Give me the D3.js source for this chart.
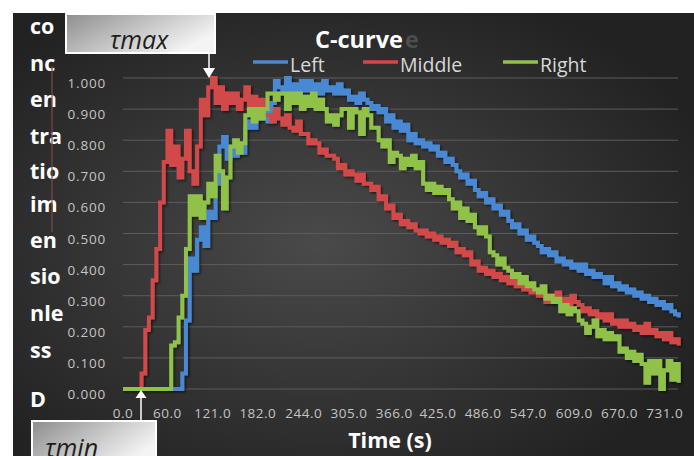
<!DOCTYPE html>
<html><head><meta charset="utf-8">
<script src="https://cdn.jsdelivr.net/npm/d3@7"></script>
<style>body{margin:0;background:#fff}svg{display:block}text{font-family:"Open Sans",sans-serif}</style>
</head><body><svg id="c" width="694" height="456"></svg>
<script>
// time (s), sampled every 5 s
const time=[0,5,10,15,20,25,30,35,40,45,50,55,60,65,70,75,80,85,90,95,
100,105,110,115,120,125,130,135,140,145,150,155,160,165,170,175,180,185,190,195,
200,205,210,215,220,225,230,235,240,245,250,255,260,265,270,275,280,285,290,295,
300,305,310,315,320,325,330,335,340,345,350,355,360,365,370,375,380,385,390,395,
400,405,410,415,420,425,430,435,440,445,450,455,460,465,470,475,480,485,490,495,
500,505,510,515,520,525,530,535,540,545,550,555,560,565,570,575,580,585,590,595,
600,605,610,615,620,625,630,635,640,645,650,655,660,665,670,675,680,685,690,695,
700,705,710,715,720,725,730,735,740,745,750];
const left=[0,0,0,0,0,0,0,0,0,0,
0,0,0,0,0,0,0.05,0.22,0.42,0.38,
0.48,0.52,0.46,0.57,0.55,0.66,0.78,0.81,0.74,0.77,
0.75,0.78,0.76,0.84,0.86,0.84,0.88,0.87,0.90,0.86,
0.92,0.99,0.97,0.95,1.00,0.96,0.98,0.95,0.99,0.96,
0.99,0.96,0.98,0.95,0.99,0.96,0.97,0.95,0.98,0.95,
0.96,0.93,0.94,0.92,0.95,0.93,0.92,0.90,0.91,0.89,
0.90,0.86,0.88,0.84,0.86,0.83,0.85,0.80,0.82,0.79,
0.80,0.78,0.79,0.77,0.78,0.75,0.76,0.73,0.74,0.72,
0.70,0.68,0.69,0.66,0.67,0.64,0.62,0.63,0.60,0.61,
0.58,0.59,0.56,0.57,0.54,0.52,0.53,0.50,0.51,0.48,
0.49,0.47,0.46,0.44,0.45,0.43,0.44,0.41,0.42,0.40,
0.41,0.39,0.40,0.38,0.40,0.37,0.38,0.36,0.37,0.36,
0.34,0.36,0.33,0.34,0.32,0.33,0.31,0.32,0.30,0.31,
0.29,0.30,0.28,0.29,0.27,0.28,0.26,0.27,0.25,0.24,
0.23];
const middle=[0,0,0,0,0,0.05,0.19,0.23,0.35,0.45,
0.60,0.73,0.83,0.72,0.78,0.68,0.74,0.83,0.70,0.66,
0.78,0.93,0.88,0.97,1.00,0.92,0.97,0.90,0.95,0.92,
0.95,0.90,0.93,0.97,0.91,0.94,0.90,0.93,0.88,0.88,
0.86,0.90,0.87,0.85,0.88,0.84,0.83,0.86,0.82,0.82,
0.79,0.80,0.79,0.76,0.77,0.75,0.75,0.74,0.71,0.72,
0.69,0.70,0.69,0.67,0.69,0.66,0.66,0.64,0.65,0.61,
0.62,0.58,0.59,0.55,0.56,0.53,0.54,0.52,0.53,0.51,
0.50,0.51,0.49,0.50,0.48,0.49,0.47,0.48,0.46,0.47,
0.44,0.45,0.43,0.44,0.40,0.41,0.38,0.39,0.37,0.38,
0.36,0.37,0.35,0.36,0.34,0.35,0.33,0.34,0.32,0.33,
0.31,0.32,0.30,0.31,0.28,0.30,0.29,0.31,0.28,0.29,
0.27,0.30,0.28,0.27,0.25,0.26,0.24,0.25,0.23,0.24,
0.22,0.24,0.21,0.22,0.20,0.22,0.20,0.21,0.19,0.20,
0.18,0.21,0.18,0.19,0.17,0.18,0.16,0.18,0.15,0.16,
0.14];
const right=[0,0,0,0,0,0,0,0,0,0,
0,0,0,0.14,0.15,0.23,0.30,0.45,0.62,0.56,
0.62,0.55,0.60,0.66,0.62,0.75,0.70,0.58,0.68,0.78,
0.80,0.76,0.79,0.88,0.90,0.86,0.90,0.87,0.90,0.95,
0.95,0.93,0.95,0.95,0.90,0.95,0.92,0.95,0.90,0.94,
0.91,0.95,0.90,0.93,0.90,0.86,0.88,0.85,0.88,0.90,
0.90,0.84,0.90,0.89,0.82,0.90,0.88,0.84,0.84,0.80,
0.78,0.80,0.73,0.76,0.75,0.71,0.74,0.72,0.75,0.71,
0.73,0.66,0.64,0.66,0.63,0.65,0.63,0.64,0.61,0.58,
0.60,0.55,0.58,0.54,0.56,0.52,0.50,0.52,0.49,0.44,
0.43,0.40,0.42,0.39,0.38,0.36,0.37,0.34,0.36,0.33,
0.34,0.32,0.31,0.33,0.29,0.30,0.28,0.29,0.25,0.27,
0.24,0.26,0.25,0.22,0.21,0.18,0.20,0.22,0.17,0.19,
0.16,0.18,0.16,0.17,0.12,0.13,0.10,0.12,0.09,0.11,
0.08,0.02,0.09,0.05,0.09,0.00,0.06,0.09,0.03,0.08,
0.02];
const seriesNames=["Left","Middle","Right"];
const seriesColors=["#4a88d2","#d2484a","#90c24a"];
const yTicks=[0,0.1,0.2,0.3,0.4,0.5,0.6,0.7,0.8,0.9,1.0];
const xTicks=[0,60,121,182,244,305,366,425,486,547,609,670,731];
const yTitleParts=["co","nc","en","tra","tio","im","en","sio","nle","ss","D"];
const yTitleY=[34,71,107,144,179,212,248,284,321,358,407];

const svg=d3.select("#c");
const defs=svg.append("defs");
const bg=defs.append("radialGradient").attr("id","bg").attr("cx","0.45").attr("cy","0.52").attr("r","0.62");
bg.append("stop").attr("offset","0").attr("stop-color","#4a4a4a");
bg.append("stop").attr("offset","1").attr("stop-color","#222222");
const bx=defs.append("linearGradient").attr("id","box").attr("x1","0").attr("y1","0").attr("x2","1").attr("y2","0.5");
bx.append("stop").attr("offset","0").attr("stop-color","#8e8e8e");
bx.append("stop").attr("offset","1").attr("stop-color","#f4f4f4");
const sh=defs.append("filter").attr("id","sh").attr("x","-5%").attr("y","-5%").attr("width","110%").attr("height","110%");
sh.append("feDropShadow").attr("dx",1.5).attr("dy",1.5).attr("stdDeviation",1).attr("flood-color","#000").attr("flood-opacity",0.55);

svg.append("rect").attr("x",13).attr("y",13).attr("width",681).attr("height",443).attr("fill","url(#bg)");

const x=d3.scaleLinear().domain([0,749]).range([123,678]);
const y=d3.scaleLinear().domain([0,1]).range([389,78]);

// gridlines
svg.append("g").selectAll("line").data(yTicks).join("line")
  .attr("x1",x(0)).attr("x2",x(749)).attr("y1",d=>y(d)).attr("y2",d=>y(d))
  .attr("stroke","#5c5c5c").attr("stroke-width",1);

// y tick labels
svg.append("g").selectAll("text").data(yTicks).join("text")
  .attr("x",106).attr("y",d=>y(d)+10).attr("text-anchor","end")
  .attr("font-size",13.5).attr("letter-spacing",0.8).attr("fill","#c4c4c4")
  .text(d=>d3.format(".3f")(d));

// x tick labels
svg.append("g").selectAll("text").data(xTicks).join("text")
  .attr("x",d=>x(d)).attr("y",418).attr("text-anchor","middle")
  .attr("font-size",13.5).attr("letter-spacing",0.5).attr("fill","#c4c4c4")
  .text(d=>d3.format(".1f")(d));

// series
const seriesData=[left,middle,right];
const line=d3.line().x((d,i)=>x(time[i])).y(d=>y(d)).curve(d3.curveStepAfter);
const gl=svg.append("g").attr("filter","url(#sh)");
seriesData.forEach((s,k)=>{
  gl.append("path").attr("d",line(s)).attr("fill","none")
    .attr("stroke",seriesColors[k]).attr("stroke-width",4).attr("stroke-linejoin","miter");
});

// title
svg.append("text").attr("x",315).attr("y",48).attr("font-size",23.5).attr("font-weight",700)
  .attr("fill","#ffffff").text("C-curve");
svg.append("text").attr("x",405).attr("y",48).attr("font-size",23.5).attr("font-weight",700)
  .attr("fill","#6a6a6a").attr("opacity",0.55).text("e");

// legend
const legX=[253,363,503];
seriesNames.forEach((n,k)=>{
  svg.append("line").attr("x1",legX[k]).attr("x2",legX[k]+35).attr("y1",62).attr("y2",62)
    .attr("stroke",seriesColors[k]).attr("stroke-width",3.5);
  svg.append("text").attr("x",legX[k]+37).attr("y",72).attr("font-size",19.5)
    .attr("fill","#d9d9d9").text(n);
});

// y axis title (broken into fragments)
svg.append("g").selectAll("text").data(yTitleParts).join("text")
  .attr("x",30).attr("y",(d,i)=>yTitleY[i]).attr("font-size",21.5).attr("font-weight",700)
  .attr("fill","#ffffff").text(d=>d);
svg.append("line").attr("x1",52).attr("x2",52).attr("y1",66).attr("y2",232)
  .attr("stroke","#7a4a44").attr("stroke-width",1.2);

// x axis title
svg.append("text").attr("x",390).attr("y",448).attr("text-anchor","middle").attr("font-size",21.5)
  .attr("font-weight",700).attr("fill","#ffffff").text("Time (s)");

// tau max callout
svg.append("rect").attr("x",66).attr("y",14).attr("width",149).attr("height",39)
  .attr("fill","url(#box)").attr("stroke","#ffffff").attr("stroke-width",2);
svg.append("text").attr("x",139).attr("y",49).attr("text-anchor","middle").attr("font-size",25)
  .attr("font-style","italic").attr("fill","#1e1e1e").text("τmax");
svg.append("line").attr("x1",209).attr("x2",209).attr("y1",54).attr("y2",70).attr("stroke","#fff").attr("stroke-width",1.5);
svg.append("path").attr("d","M203,68 L215,68 L209,78 Z").attr("fill","#fff");

// tau min callout
svg.append("rect").attr("x",32).attr("y",421).attr("width",124).attr("height",45)
  .attr("fill","url(#box)").attr("stroke","#ffffff").attr("stroke-width",2);
svg.append("text").attr("x",45).attr("y",457).attr("font-size",25)
  .attr("font-style","italic").attr("fill","#1e1e1e").text("τmin");
svg.append("line").attr("x1",141).attr("x2",141).attr("y1",420).attr("y2",396).attr("stroke","#fff").attr("stroke-width",1.5);
svg.append("path").attr("d","M135.5,398 L146.5,398 L141,390 Z").attr("fill","#fff");
</script></body></html>
